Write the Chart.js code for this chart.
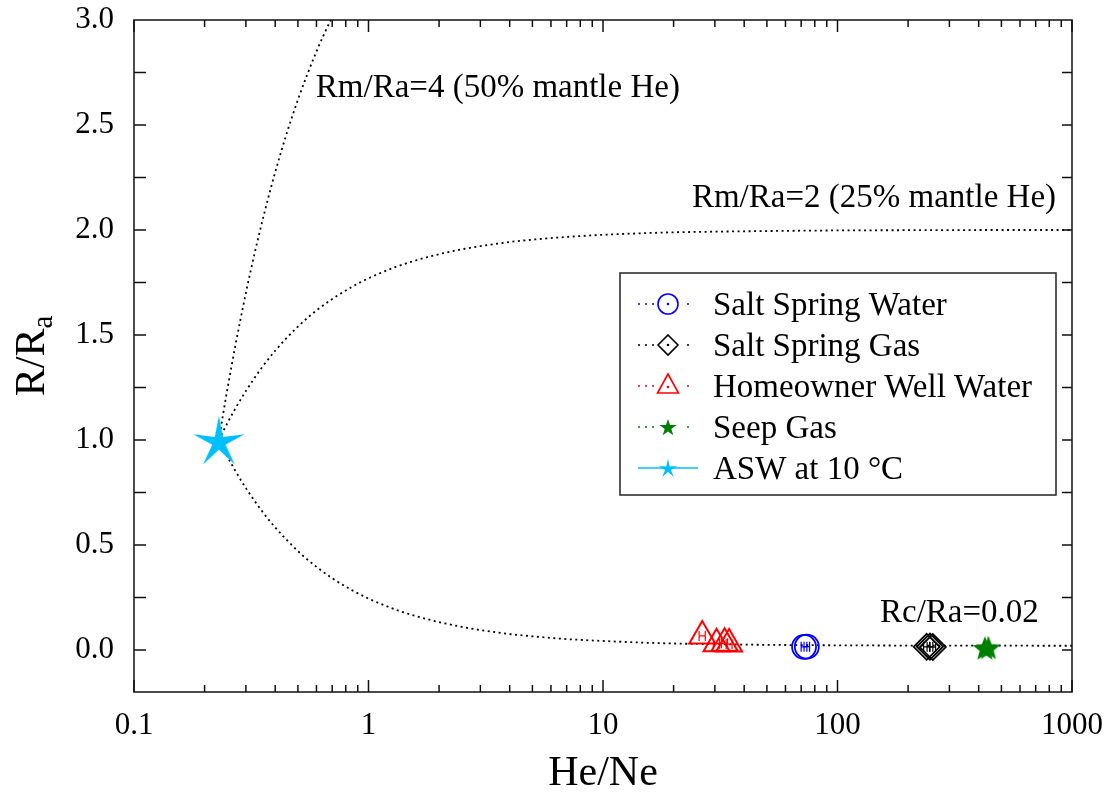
<!DOCTYPE html>
<html>
<head>
<meta charset="utf-8">
<title>He/Ne vs R/Ra</title>
<script src="https://cdn.jsdelivr.net/npm/chart.js"></script>
<style>
  body { margin: 0; background: #fff; }
</style>
</head>
<body>
<canvas id="heneChart" width="1111" height="793"></canvas>
<script>
    // samples (He/Ne, R/Ra), with small He/Ne error bars
    const springWaterX = [72, 74];
    const springWaterY = [0.015, 0.016];
    const springWaterErr = [2, 2];

    const springGasX = [240, 248, 255];
    const springGasY = [0.015, 0.016, 0.014];
    const springGasErr = [7, 7, 7];

    const wellWaterX = [26.5, 30.5, 33, 34.5];
    const wellWaterY = [0.067, 0.03, 0.032, 0.028];
    const wellWaterErr = [0.8, 0.9, 1, 1];

    const seepGasX = [425, 440];
    const seepGasY = [0.01, 0.012];

    const aswX = [0.23];
    const aswY = [1.0];

    // mixing lines between ASW and the end members
    const mixX = [0.23, 0.25, 0.27, 0.3, 0.35, 0.4, 0.5, 0.6, 0.7, 0.85, 1, 1.3, 1.6, 2, 2.5, 3, 4, 5, 7, 10, 15, 20, 30, 50, 100, 200, 500, 1000];
    const crustY = [1.0, 0.922, 0.855, 0.771, 0.664, 0.584, 0.471, 0.396, 0.342, 0.285, 0.245, 0.193, 0.161, 0.133, 0.110, 0.095, 0.076, 0.065, 0.052, 0.043, 0.035, 0.031, 0.0275, 0.0245, 0.0223, 0.0211, 0.0205, 0.0202];
    const mantle25Y = [1.0, 1.080, 1.148, 1.233, 1.343, 1.425, 1.540, 1.617, 1.671, 1.729, 1.770, 1.823, 1.856, 1.885, 1.908, 1.923, 1.943, 1.954, 1.967, 1.977, 1.985, 1.989, 1.992, 1.995, 1.998, 1.999, 2.0, 2.0];
    const mantle50X = [0.23, 0.24, 0.25, 0.27, 0.3, 0.33, 0.36, 0.4, 0.45, 0.5, 0.55, 0.6, 0.65, 0.7, 0.75];
    const mantle50Y = [1.0, 1.125, 1.240, 1.444, 1.700, 1.909, 2.083, 2.275, 2.467, 2.620, 2.745, 2.850, 2.938, 3.014, 3.08];

    const xTickValues = [0.1, 1, 10, 100, 1000];
    const yTickValues = [0, 0.5, 1, 1.5, 2, 2.5, 3];

    const curveLabels = [
        { text: 'Rm/Ra=4 (50% mantle He)', x: 0.596, y: 2.633, align: 'left' },
        { text: 'Rm/Ra=2 (25% mantle He)', x: 855, y: 2.11, align: 'right' },
        { text: 'Rc/Ra=0.02', x: 722, y: 0.133, align: 'right' }
    ];

    const SERIF = "'Liberation Serif', 'Times New Roman', serif";

    function toPoints(xs, ys) {
        return xs.map((x, i) => ({ x: x, y: ys[i] }));
    }

    function starImage(outer, inner, color) {
        let c = document.createElement('canvas');
        let s = Math.ceil(outer * 2 + 2);
        c.width = s; c.height = s;
        let g = c.getContext('2d');
        g.translate(s / 2, s / 2 + outer * 0.1);
        g.beginPath();
        for (let i = 0; i < 10; i++) {
            let r = i % 2 ? inner : outer;
            let a = -Math.PI / 2 + i * Math.PI / 5;
            g.lineTo(r * Math.cos(a), r * Math.sin(a));
        }
        g.closePath();
        g.fillStyle = color;
        g.fill();
        return c;
    }

    function mixLine(xs, ys) {
        return {
            type: 'line', data: toPoints(xs, ys), borderColor: '#000', borderWidth: 1.8,
            borderDash: [2, 3.5], pointRadius: 0, fill: false, cubicInterpolationMode: 'monotone', order: 10
        };
    }

    let datasets = [
        mixLine(mixX, crustY),
        mixLine(mixX, mantle25Y),
        mixLine(mantle50X, mantle50Y),
        { label: 'Salt Spring Water', data: toPoints(springWaterX, springWaterY), err: springWaterErr,
          pointStyle: 'circle', pointRadius: 12, borderColor: '#0000ff', backgroundColor: 'rgba(0,0,0,0)', borderWidth: 1.8, order: 1 },
        { label: 'Salt Spring Gas', data: toPoints(springGasX, springGasY), err: springGasErr,
          pointStyle: 'rectRot', pointRadius: 13, borderColor: '#000000', backgroundColor: 'rgba(0,0,0,0)', borderWidth: 1.8, order: 1 },
        { label: 'Homeowner Well Water', data: toPoints(wellWaterX, wellWaterY), err: wellWaterErr,
          pointStyle: 'triangle', pointRadius: 15, borderColor: '#ff0000', backgroundColor: 'rgba(0,0,0,0)', borderWidth: 2, order: 1 },
        { label: 'Seep Gas', data: toPoints(seepGasX, seepGasY),
          pointStyle: starImage(13, 5.5, '#008000'), legendImage: starImage(9, 3.5, '#008000'),
          borderColor: '#008000', order: 1 },
        { label: 'ASW at 10 °C', data: toPoints(aswX, aswY), solidLegend: true,
          pointStyle: starImage(27, 7, '#00bfff'), legendImage: starImage(10, 3, '#00bfff'),
          borderColor: '#00bfff', order: 0 }
    ];

    function drawLegendMarker(ctx, ds, x, y) {
        if (ds.legendImage) {
            let img = ds.legendImage;
            ctx.drawImage(img, x - img.width / 2, y - img.height / 2);
            return;
        }
        ctx.strokeStyle = ds.borderColor;
        ctx.lineWidth = 1.6;
        ctx.setLineDash([]);
        ctx.beginPath();
        if (ds.pointStyle === 'circle') {
            ctx.arc(x, y, 10, 0, Math.PI * 2);
        } else if (ds.pointStyle === 'rectRot') {
            ctx.moveTo(x, y - 10); ctx.lineTo(x + 10, y); ctx.lineTo(x, y + 10); ctx.lineTo(x - 10, y); ctx.closePath();
        } else {
            ctx.moveTo(x, y - 12); ctx.lineTo(x + 10.5, y + 7); ctx.lineTo(x - 10.5, y + 7); ctx.closePath();
        }
        ctx.stroke();
        ctx.fillStyle = ds.borderColor;
        ctx.beginPath();
        ctx.arc(x, y + (ds.pointStyle === 'triangle' ? 1 : 0), 1.3, 0, Math.PI * 2);
        ctx.fill();
    }

    const framePlugin = {
        id: 'frame',
        afterDatasetsDraw(chart) {
            let ctx = chart.ctx, x = chart.scales.x, y = chart.scales.y;
            ctx.save();
            ctx.lineWidth = 1.2;
            chart.data.datasets.forEach(ds => {
                if (!ds.err) return;
                ctx.strokeStyle = ds.borderColor;
                ds.data.forEach((p, i) => {
                    let x0 = x.getPixelForValue(p.x - ds.err[i]);
                    let x1 = x.getPixelForValue(p.x + ds.err[i]);
                    let py = y.getPixelForValue(p.y);
                    ctx.beginPath();
                    ctx.moveTo(x0, py); ctx.lineTo(x1, py);
                    ctx.moveTo(x0, py - 5); ctx.lineTo(x0, py + 5);
                    ctx.moveTo(x1, py - 5); ctx.lineTo(x1, py + 5);
                    ctx.stroke();
                });
            });
            ctx.restore();
        },
        afterDraw(chart) {
            let ctx = chart.ctx, a = chart.chartArea, x = chart.scales.x, y = chart.scales.y;
            ctx.save();
            ctx.strokeStyle = '#111';
            ctx.lineWidth = 1.5;
            ctx.strokeRect(a.left, a.top, a.right - a.left, a.bottom - a.top);

            // inward ticks on all four sides
            ctx.beginPath();
            xTickValues.forEach((v, k) => {
                let px = x.getPixelForValue(v);
                ctx.moveTo(px, a.bottom); ctx.lineTo(px, a.bottom - 12);
                ctx.moveTo(px, a.top); ctx.lineTo(px, a.top + 12);
                if (k === xTickValues.length - 1) return;
                for (let m = 2; m <= 9; m++) {
                    let mx = x.getPixelForValue(v * m);
                    ctx.moveTo(mx, a.bottom); ctx.lineTo(mx, a.bottom - 7);
                    ctx.moveTo(mx, a.top); ctx.lineTo(mx, a.top + 7);
                }
            });
            for (let v = 0; v < 3; v += 0.25) {
                let py = y.getPixelForValue(v);
                ctx.moveTo(a.left, py); ctx.lineTo(a.left + 12, py);
                ctx.moveTo(a.right, py); ctx.lineTo(a.right - 10, py);
            }
            ctx.stroke();

            // curve labels
            ctx.fillStyle = '#000';
            ctx.font = '33px ' + SERIF;
            ctx.textBaseline = 'alphabetic';
            curveLabels.forEach(l => {
                ctx.textAlign = l.align;
                ctx.fillText(l.text, x.getPixelForValue(l.x), y.getPixelForValue(l.y));
            });

            // axis titles
            ctx.font = '42px ' + SERIF;
            ctx.textAlign = 'center';
            ctx.fillText('He/Ne', (a.left + a.right) / 2, 785);

            ctx.save();
            ctx.translate(44, 356);
            ctx.rotate(-Math.PI / 2);
            ctx.font = '42px ' + SERIF;
            let mainW = ctx.measureText('R/R').width;
            ctx.font = '29px ' + SERIF;
            let subW = ctx.measureText('a').width;
            let start = -(mainW + subW) / 2;
            ctx.textAlign = 'left';
            ctx.font = '42px ' + SERIF;
            ctx.fillText('R/R', start, 0);
            ctx.font = '29px ' + SERIF;
            ctx.fillText('a', start + mainW, 8);
            ctx.restore();

            // legend box
            let lx = 620, ly = 273, lw = 436, lh = 222;
            ctx.fillStyle = '#fff';
            ctx.fillRect(lx, ly, lw, lh);
            ctx.strokeStyle = '#222';
            ctx.lineWidth = 1.5;
            ctx.strokeRect(lx, ly, lw, lh);
            let items = chart.data.datasets.filter(ds => ds.label);
            items.forEach((ds, i) => {
                let cy = 304 + i * 41;
                ctx.strokeStyle = ds.borderColor;
                ctx.lineWidth = 1.5;
                ctx.setLineDash(ds.solidLegend ? [] : [2, 5]);
                ctx.beginPath();
                ctx.moveTo(638, cy); ctx.lineTo(ds.solidLegend ? 698 : 694, cy);
                ctx.stroke();
                ctx.setLineDash([]);
                if (!ds.solidLegend) ctx.clearRect(654, cy - 13, 28, 26);
                drawLegendMarker(ctx, ds, 668, cy);
                ctx.fillStyle = '#000';
                ctx.font = '33px ' + SERIF;
                ctx.textAlign = 'left';
                ctx.fillText(ds.label, 713, cy + 11);
            });
            ctx.restore();
        }
    };

    let ctx = document.getElementById('heneChart').getContext('2d');
    let heneChart = new Chart(ctx, {
        type: 'scatter',
        data: { datasets: datasets },
        options: {
            responsive: false,
            animation: false,
            events: [],
            layout: { padding: { top: 20, right: 39, left: 0, bottom: 0 } },
            plugins: { legend: { display: false }, tooltip: { enabled: false } },
            scales: {
                x: {
                    type: 'logarithmic', min: 0.1, max: 1000,
                    grid: { display: false, drawTicks: false },
                    border: { display: false },
                    afterBuildTicks: s => { s.ticks = xTickValues.map(v => ({ value: v })); },
                    afterFit: s => { s.height = 101; s.paddingLeft = 0; s.paddingRight = 0; },
                    ticks: { color: '#000', padding: 15, maxRotation: 0, autoSkip: false,
                             font: { family: SERIF, size: 31 }, callback: v => String(v) }
                },
                y: {
                    type: 'linear', min: -0.2, max: 3.0,
                    grid: { display: false, drawTicks: false },
                    border: { display: false },
                    afterBuildTicks: s => { s.ticks = yTickValues.map(v => ({ value: v })); },
                    afterFit: s => { s.width = 134; s.paddingTop = 0; s.paddingBottom = 0; },
                    ticks: { color: '#000', padding: 20,
                             font: { family: SERIF, size: 31 }, callback: v => v.toFixed(1) }
                }
            }
        },
        plugins: [framePlugin]
    });
</script>
</body>
</html>
